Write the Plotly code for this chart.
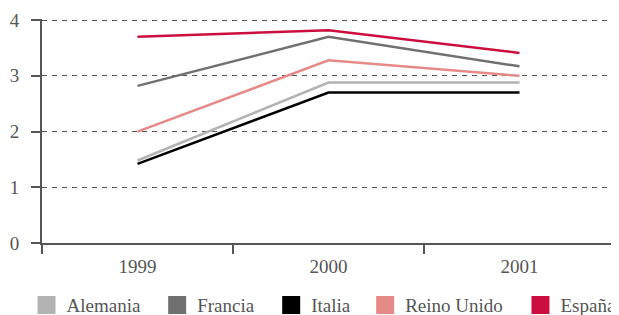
import plotly.graph_objects as go

years = ["1999", "2000", "2001"]
alemania = [1.48, 2.88, 2.88]
francia = [2.82, 3.70, 3.17]
italia = [1.42, 2.70, 2.70]
reino_unido = [2.00, 3.28, 3.00]
espana = [3.70, 3.82, 3.41]

series = [
    ("Alemania", alemania, "#b3b3b3"),
    ("Francia", francia, "#707070"),
    ("Italia", italia, "#000000"),
    ("Reino Unido", reino_unido, "#e58a87"),
    ("España", espana, "#cc0e3f"),
]
legend_x = [-0.0270, 0.2010, 0.4000, 0.5640, 0.8350]

font_fam = "Liberation Serif, DejaVu Serif, serif"
fig = go.Figure()
for name, vals, col in series:
    fig.add_trace(go.Scatter(x=years, y=vals, mode="lines", name=name,
                             line=dict(color=col, width=2.5), showlegend=False))
layout_legends = {}
for i, (name, vals, col) in enumerate(series):
    key = "legend" if i == 0 else f"legend{i+1}"
    fig.add_trace(go.Scatter(x=[None], y=[None], mode="markers", name=name,
                             marker=dict(symbol="square", size=16, color=col,
                                         line=dict(color=col, width=2)),
                             showlegend=True, legend=key))
    layout_legends[key] = dict(orientation="h", x=legend_x[i], xanchor="left",
                               y=-0.277, yanchor="middle",
                               font=dict(family=font_fam, size=19, color="#555555"),
                               itemsizing="trace", bgcolor="rgba(0,0,0,0)")

fig.update_layout(
    width=619, height=307,
    margin=dict(l=34, r=12, t=11, b=72, autoexpand=False),
    plot_bgcolor="white", paper_bgcolor="white",
    font=dict(family=font_fam, size=19, color="#555555"),
    xaxis=dict(type="category", range=[-0.5, 2.5], showgrid=False,
               showline=True, linecolor="#555555", linewidth=2,
               ticks="outside", tickson="boundaries", ticklen=9, tickwidth=2,
               tickcolor="#555555", zeroline=False, ticklabelstandoff=5),
    yaxis=dict(range=[0, 4.02], tickvals=[0, 1, 2, 3, 4], showgrid=True, gridcolor="#555555",
               gridwidth=1, griddash="5px,5px", showline=True, linecolor="#555555",
               linewidth=2, ticks="outside", ticklen=9, tickwidth=2,
               tickcolor="#555555", zeroline=False, ticklabelstandoff=8),
    **layout_legends,
)
fig.write_html("out.html")
